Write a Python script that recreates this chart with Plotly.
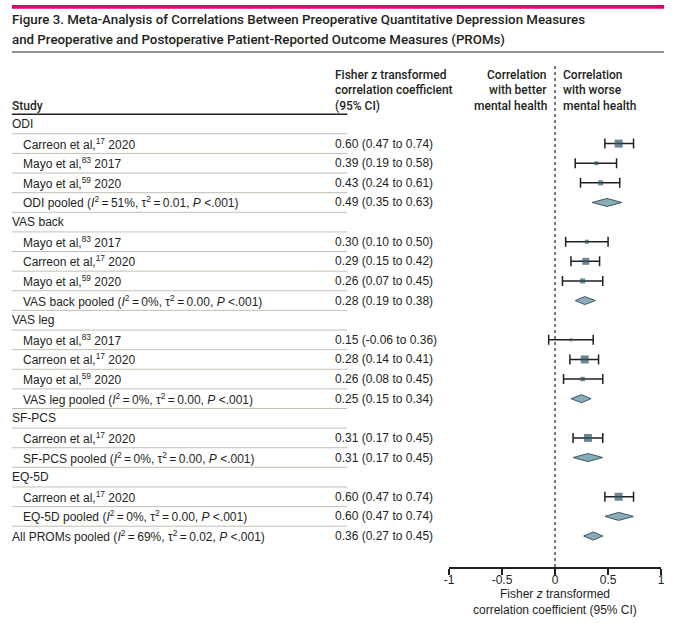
import plotly.graph_objects as go

W, H = 673, 623

# ---------------- data ----------------
groups = ["ODI", "VAS back", "VAS leg", "SF-PCS", "EQ-5D"]
study_authors = [
    ["Carreon et al,", "Mayo et al,", "Mayo et al,"],
    ["Mayo et al,", "Carreon et al,", "Mayo et al,"],
    ["Mayo et al,", "Carreon et al,", "Mayo et al,"],
    ["Carreon et al,"],
    ["Carreon et al,"],
]
study_refs = [["17", "83", "59"], ["83", "17", "59"], ["83", "17", "59"], ["17"], ["17"]]
study_years = [["2020", "2017", "2020"], ["2017", "2020", "2020"], ["2017", "2020", "2020"], ["2020"], ["2020"]]
study_est = [[0.60, 0.39, 0.43], [0.30, 0.29, 0.26], [0.15, 0.28, 0.26], [0.31], [0.60]]
study_lo = [[0.47, 0.19, 0.24], [0.10, 0.15, 0.07], [-0.06, 0.14, 0.08], [0.17], [0.47]]
study_hi = [[0.74, 0.58, 0.61], [0.50, 0.42, 0.45], [0.36, 0.41, 0.45], [0.45], [0.74]]
study_weight = [[64, 16, 25], [16, 49, 25], [9, 64, 20], [64], [64]]

pooled_est = [0.49, 0.28, 0.25, 0.31, 0.60]
pooled_lo = [0.35, 0.19, 0.15, 0.17, 0.47]
pooled_hi = [0.63, 0.38, 0.34, 0.45, 0.74]
pooled_i2 = ["51%", "0%", "0%", "0%", "0%"]
pooled_tau2 = ["0.01", "0.00", "0.00", "0.00", "0.00"]
pooled_p = ["<.001"] * 5

overall_est, overall_lo, overall_hi = 0.36, 0.27, 0.45
overall_i2, overall_tau2, overall_p = "69%", "0.02", "<.001"

tick_vals = [-1, -0.5, 0, 0.5, 1]
tick_text = ["-1", "-0.5", "0", "0.5", "1"]

# ---------------- styles ----------------
FONT = "Liberation Sans, Arial, sans-serif"
HFONT = "Roboto, Liberation Sans, sans-serif"
TXT = "#231f20"
SQ = "#2d5564"
DFILL = "#8aabb8"
DLINE = "#3b5864"
GRID = "#c3c0b2"
THIN = "\u2009"

ROW0_PX, STEP_PX, AXIS_PX = 124.0, 19.62, 567.0


def xp(px):
    return px / W


def yp(px):
    return 1 - px / H


def fmt(e, lo, hi):
    return f"{e:.2f} ({lo:.2f} to {hi:.2f})"


def stats(i2, t2, p):
    eq = f"{THIN}={THIN}"
    return f"(<i>I</i><sup>2</sup>{eq}{i2}, τ<sup>2</sup>{eq}{t2}, <i>P</i> {p})"


rows = []  # (label, indent, value_text, kind, est, lo, hi, weight)
for g, name in enumerate(groups):
    rows.append((name, False, "", "header", None, None, None, None))
    for k in range(len(study_est[g])):
        lab = f"{study_authors[g][k]}<sup>{study_refs[g][k]}</sup> {study_years[g][k]}"
        rows.append((lab, True, fmt(study_est[g][k], study_lo[g][k], study_hi[g][k]), "study",
                     study_est[g][k], study_lo[g][k], study_hi[g][k], study_weight[g][k]))
    lab = f"{name} pooled {stats(pooled_i2[g], pooled_tau2[g], pooled_p[g])}"
    rows.append((lab, True, fmt(pooled_est[g], pooled_lo[g], pooled_hi[g]), "pooled",
                 pooled_est[g], pooled_lo[g], pooled_hi[g], None))
rows.append((f"All PROMs pooled {stats(overall_i2, overall_tau2, overall_p)}", False,
             fmt(overall_est, overall_lo, overall_hi), "pooled", overall_est, overall_lo, overall_hi, None))

n = len(rows)
y_top = -ROW0_PX / STEP_PX
y_bot = (AXIS_PX - ROW0_PX) / STEP_PX

fig = go.Figure()

# diamonds for pooled estimates
dh = 4.0 / STEP_PX
for i, r in enumerate(rows):
    if r[3] == "pooled":
        fig.add_trace(go.Scatter(
            x=[r[5], r[4], r[6], r[4], r[5]],
            y=[i, i - dh, i, i + dh, i],
            mode="lines", fill="toself", fillcolor=DFILL,
            line=dict(color=DLINE, width=1), hoverinfo="skip", showlegend=False))

# individual studies
sx, sy, sp, sm, ss = [], [], [], [], []
for i, r in enumerate(rows):
    if r[3] == "study":
        sx.append(r[4]); sy.append(i)
        sp.append(r[6] - r[4]); sm.append(r[4] - r[5])
        ss.append(r[7] ** 0.5)
fig.add_trace(go.Scatter(
    x=sx, y=sy, mode="markers",
    marker=dict(symbol="square", size=ss, color=SQ, line=dict(width=0)),
    error_x=dict(type="data", symmetric=False, array=sp, arrayminus=sm,
                 color=TXT, thickness=1.5, width=5),
    showlegend=False))

shapes = []
shapes.append(dict(type="rect", xref="paper", yref="paper", x0=xp(7), x1=xp(668),
                   y0=yp(8.7), y1=yp(5), fillcolor="#e5006d", line=dict(width=0), layer="above"))
shapes.append(dict(type="line", xref="paper", yref="paper", x0=xp(7), x1=xp(668),
                   y0=yp(52), y1=yp(52), line=dict(color=TXT, width=1)))
shapes.append(dict(type="line", xref="paper", yref="y", x0=xp(7), x1=xp(347),
                   y0=-0.5, y1=-0.5, line=dict(color=TXT, width=1.5)))
for i in range(n - 1):
    shapes.append(dict(type="line", xref="paper", yref="y", x0=xp(7), x1=xp(347),
                       y0=i + 0.5, y1=i + 0.5, line=dict(color=GRID, width=1)))
shapes.append(dict(type="line", xref="x", yref="paper", x0=0, x1=0,
                   y0=yp(AXIS_PX), y1=yp(64), line=dict(color=TXT, width=1.2, dash="dot")))

ann = []


def add(text, x, y, xref="paper", yref="paper", xanchor="left", size=12, font=FONT,
        color=TXT, weight="normal"):
    ann.append(dict(text=text, x=x, y=y, xref=xref, yref=yref, xanchor=xanchor,
                    yanchor="middle", showarrow=False, borderpad=0, borderwidth=0,
                    font=dict(family=font, size=size, color=color, weight=weight)))


# title
add("Figure 3. Meta-Analysis of Correlations Between Preoperative Quantitative Depression Measures",
    xp(7), yp(20), size=13.3, font=HFONT, weight=500)
add("and Preoperative and Postoperative Patient-Reported Outcome Measures (PROMs)",
    xp(7), yp(40), size=13.3, font=HFONT, weight=500)

# column headers
add("Study", xp(7), yp(106), font=HFONT, weight=500)
add("Fisher z transformed", xp(334), yp(75), font=HFONT, weight=500)
add("correlation coefficient", xp(334), yp(90.5), font=HFONT, weight=500)
add("(95% CI)", xp(334), yp(106), font=HFONT, weight=500)
for j, t in enumerate(["Correlation", "with better", "mental health"]):
    add(t, xp(549), yp(75 + j * 15.5), xanchor="right", font=HFONT, weight=500)
for j, t in enumerate(["Correlation", "with worse", "mental health"]):
    add(t, xp(566), yp(75 + j * 15.5), font=HFONT, weight=500)

# table rows
for i, r in enumerate(rows):
    add(r[0], xp(18 if r[1] else 7), i, yref="y")
    if r[2]:
        add(r[2], xp(334), i, yref="y")

# axis title
add("Fisher <i>z</i> transformed", 0, yp(594), xref="x", xanchor="center")
add("correlation coefficient (95% CI)", 0, yp(610), xref="x", xanchor="center")

fig.update_layout(
    width=W, height=H, margin=dict(l=0, r=0, t=0, b=0),
    paper_bgcolor="white", plot_bgcolor="rgba(0,0,0,0)",
    shapes=shapes, annotations=ann, showlegend=False,
    xaxis=dict(domain=[xp(450), xp(665)], range=[-1, 1], showgrid=False, zeroline=False,
               showline=True, linecolor=TXT, linewidth=1.5, ticks="outside", ticklen=6,
               tickwidth=1.5, tickcolor=TXT, tickvals=tick_vals, ticktext=tick_text,
               ticklabelstandoff=-5,
               tickfont=dict(family=FONT, size=12, color=TXT), fixedrange=True),
    yaxis=dict(domain=[yp(AXIS_PX), 1], range=[y_bot, y_top], visible=False, fixedrange=True),
)

fig.write_html("out.html")
